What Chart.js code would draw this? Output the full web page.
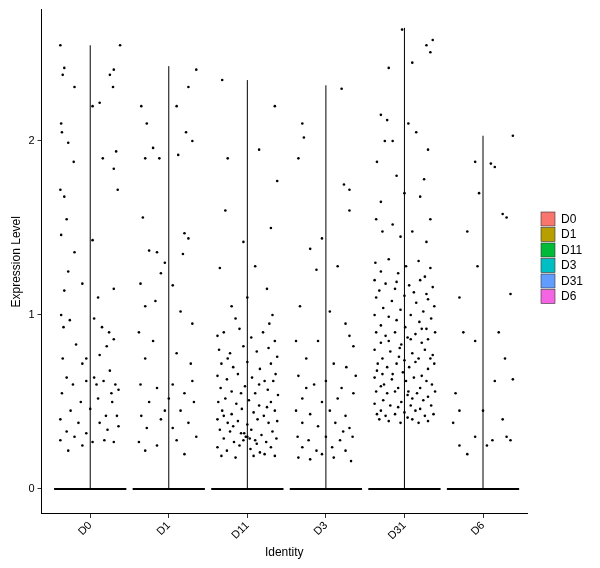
<!DOCTYPE html>
<html>
<head>
<script src="https://cdn.jsdelivr.net/npm/chart.js@4.4.0/dist/chart.umd.min.js"></script>
<style>body{margin:0;background:#fff}#wrap{width:600px;height:568px}</style>
</head>
<body>
<div id="wrap"><canvas id="c"></canvas></div>
<script>
const categories = ['D0', 'D1', 'D11', 'D3', 'D31', 'D6'];
const legendColors = ['#F8766D', '#B79F00', '#00BA38', '#00BFC4', '#619CFF', '#F564E3'];
const violinMax = [2.55, 2.43, 2.35, 2.32, 2.65, 2.03];
const yTicks = [0, 1, 2];

// non-zero cells: [jitter, expression]
const d0 = [[-.38,2.55],[-.33,2.42],[-.35,2.38],[-.2,2.31],[.3,2.41],[.38,2.55],[.25,2.38],[.29,2.31],[.12,2.22],[.03,2.2],[-.37,2.1],[-.36,2.05],[-.28,1.99],[-.21,1.88],[.16,1.9],[.33,1.94],[.3,1.84],[-.38,1.72],[-.33,1.68],[.35,1.72],[-.3,1.55],[-.37,1.46],[-.2,1.36],[.03,1.43],[-.28,1.25],[-.33,1.14],[-.1,1.18],[.1,1.1],[.3,1.15],[-.37,1.0],[-.34,.93],[-.26,.97],[.05,.98],[.15,.93],[.24,.9],[-.18,.83],[.3,.86],[.21,.82],[-.35,.75],[-.1,.72],[.12,.77],[.25,.68],[-.3,.64],[-.22,.6],[-.05,.62],[.05,.64],[.17,.62],[.32,.6],[.36,.57],[-.36,.55],[-.12,.5],[.1,.52],[.28,.5],[-.25,.45],[0,.46],[.2,.42],[-.38,.4],[-.15,.38],[.12,.38],[.34,.42],[-.3,.33],[-.05,.32],[.22,.34],[-.38,.28],[-.2,.3],[.03,.27],[.3,.27],[-.1,.25],[.18,.28],[-.28,.22],[.36,.36],[.08,.6],[-.05,.75],[.27,.55]];
const d1 = [[-.35,2.2],[.35,2.41],[.25,2.31],[.1,2.2],[-.28,2.1],[.22,2.05],[.3,2.0],[-.2,1.96],[-.3,1.9],[-.12,1.9],[.12,1.92],[-.33,1.56],[.2,1.47],[.25,1.44],[-.25,1.37],[-.15,1.36],[-.05,1.3],[.18,1.35],[-.36,1.18],[-.1,1.24],[.05,1.17],[-.3,1.05],[-.17,1.08],[.15,1.02],[-.38,.9],[-.2,.85],[.3,.95],[-.3,.75],[.1,.78],[.28,.72],[-.36,.6],[-.15,.58],[.05,.6],[.2,.55],[-.25,.5],[0,.52],[.32,.5],[-.35,.42],[-.1,.4],[.15,.45],[-.28,.35],[.05,.35],[.25,.38],[-.38,.27],[-.15,.25],[.1,.28],[.35,.3],[-.3,.22],[.2,.2],[-.05,.45],[.3,.62]];
const d11 = [[-.32,2.35],[-.25,1.9],[.35,2.2],[-.28,1.6],[.15,1.95],[.38,1.77],[.3,1.5],[-.05,1.42],[.1,1.28],[-.35,1.27],[.25,1.15],[0,1.1],[-.2,1.05],[.32,1.0],[-.38,.88],[-.3,.9],[-.1,.92],[.05,.87],[.2,.9],[.35,.85],[-.36,.8],[-.22,.78],[-.05,.82],[.12,.79],[.27,.81],[.38,.76],[-.33,.72],[-.18,.7],[0,.73],[.16,.69],[.3,.72],[-.38,.65],[-.26,.63],[-.12,.66],[.06,.64],[.22,.62],[.36,.66],[-.34,.58],[-.2,.56],[-.03,.59],[.1,.55],[.26,.57],[.39,.54],[-.37,.5],[-.28,.52],[-.14,.49],[.02,.51],[.15,.48],[.3,.5],[-.32,.45],[-.2,.43],[-.07,.46],[.08,.44],[.21,.42],[.35,.45],[-.38,.4],[-.25,.38],[-.12,.39],[0,.37],[.13,.4],[.27,.38],[.38,.39],[-.35,.34],[-.22,.33],[-.08,.32],[.05,.34],[.18,.31],[.32,.33],[-.3,.29],[-.17,.27],[-.02,.3],[.1,.28],[.24,.27],[.37,.29],[-.38,.24],[-.26,.22],[-.1,.25],[.04,.23],[.16,.21],[.3,.24],[-.33,.19],[-.15,.18],[.08,.19],[.22,.2],[.35,.19],[-.05,.28],[0,.3],[.03,.29],[-.04,.32],[.15,.6],[-.25,.75],[.28,.95],[-.15,.98],[-.3,.42],[.25,.47],[-.08,.55],[.33,.62],[-.18,.36],[.12,.26]];
const d3 = [[.2,2.3],[-.3,2.1],[-.28,2.02],[-.35,1.9],[.23,1.75],[.3,1.72],[.3,1.6],[-.05,1.44],[-.2,1.38],[-.12,1.26],[.15,1.28],[-.33,1.05],[.05,1.02],[.25,.95],[-.38,.85],[-.1,.85],[.3,.88],[.35,.82],[-.25,.75],[.1,.72],[.26,.7],[-.35,.65],[-.15,.6],[0,.62],[.2,.58],[-.3,.52],[-.05,.5],[.15,.52],[.35,.55],[-.38,.45],[-.2,.43],[.05,.45],[.25,.42],[-.3,.38],[-.1,.36],[.12,.38],[.3,.35],[-.36,.3],[-.22,.28],[0,.3],[.18,.28],[.34,.3],[-.3,.24],[-.12,.22],[.08,.24],[.25,.22],[-.35,.18],[-.2,.17],[.1,.18],[.32,.16],[-.05,.2],[.22,.33],[-.25,.58],[.38,.65]];
const d31 = [[-.03,2.64],[.28,2.55],[.33,2.51],[.36,2.58],[.1,2.45],[-.2,2.42],[-.3,2.15],[-.22,2.12],[-.25,2.0],[-.15,2.0],[.05,2.1],[.15,2.05],[.3,1.95],[-.35,1.88],[.25,1.78],[-.1,1.8],[-.3,1.65],[0,1.7],[.2,1.68],[-.36,1.55],[-.15,1.52],[.33,1.55],[-.28,1.48],[.1,1.48],[-.05,1.45],[.28,1.42],
[-.37,1.3],[-.2,1.32],[.02,1.28],[.18,1.31],[.33,1.27],[-.3,1.25],[-.08,1.24],[.26,1.22],
[-.38,1.2],[-.24,1.18],[-.1,1.19],[.06,1.17],[.2,1.2],[.36,1.16],[-.32,1.14],[.12,1.13],
[-.36,1.1],[-.16,1.08],[0,1.11],[.15,1.07],[.3,1.09],[-.27,1.04],[-.05,1.03],[.24,1.02],[.38,1.05],
[-.38,1.0],[-.2,.99],[-.1,.97],[.08,1.0],[.19,.96],[.34,.98],[-.3,.94],[.01,.93],[.28,.92],
[-.36,.9],[-.24,.88],[-.12,.9],[.04,.87],[.14,.89],[.3,.86],[.39,.9],[-.3,.84],[-.04,.83],[.22,.84],
[-.38,.8],[-.18,.79],[-.06,.81],[.1,.78],[.26,.8],[.36,.77],[-.28,.75],[0,.74],[.18,.75],
[-.34,.72],[-.22,.7],[-.1,.72],[.06,.7],[.14,.73],[.3,.69],[.38,.72],[-.28,.66],[-.02,.67],[.22,.65],
[-.38,.64],[-.16,.63],[.02,.62],[.12,.64],[.28,.62],[.35,.6],[-.3,.59],[-.08,.58],[.2,.58],
[-.36,.56],[-.22,.55],[-.12,.56],[.04,.54],[.16,.55],[.3,.53],[.39,.56],[-.27,.51],[-.04,.5],[.24,.51],
[-.38,.49],[-.18,.48],[-.08,.47],[.08,.48],[.2,.46],[.34,.48],[-.3,.45],[0,.44],[.14,.45],
[-.35,.43],[-.24,.42],[-.12,.43],[.04,.41],[.26,.42],[.37,.43],[-.2,.39],[.1,.4],[.3,.39],
[-.32,.4],[-.05,.38],[.18,.38],[-.15,.66],[.08,.86],[-.35,.68],[.33,.75],[-.12,1.15],[.05,.56],[-.26,.6],[.22,.92],[-.07,.76],[.1,.52],[-.2,.85],[.28,1.12]];
const d6 = [[-.1,1.88],[.1,1.87],[.15,1.85],[.38,2.03],[-.05,1.7],[.25,1.58],[.3,1.56],[-.2,1.48],[-.07,1.28],[-.3,1.1],[.35,1.12],[-.25,.9],[.2,.9],[-.1,.85],[.28,.75],[-.35,.55],[.15,.62],[.38,.63],[-.3,.45],[0,.45],[.25,.4],[-.38,.38],[-.1,.3],[.12,.28],[.3,.3],[-.3,.25],[.05,.25],[.35,.28],[-.2,.2]];
const groups = [d0, d1, d11, d3, d31, d6];

const datasets = [];
groups.forEach((g, i) => {
    datasets.push({type: 'line', data: [{x: i - 0.46, y: 0}, {x: i + 0.46, y: 0}],
        borderColor: '#000', borderWidth: 2, pointRadius: 0});
    datasets.push({type: 'line', data: [{x: i, y: 0}, {x: i, y: violinMax[i]}],
        borderColor: '#000', borderWidth: 1, pointRadius: 0});
    datasets.push({type: 'scatter', data: g.map(p => ({x: i + p[0], y: p[1]})),
        backgroundColor: '#000', borderWidth: 0, pointRadius: 1.3});
});

const legendPlugin = {
    id: 'ggLegend',
    afterDraw(chart) {
        const ctx = chart.ctx;
        ctx.save();
        ctx.font = '12px "Liberation Sans", Arial';
        ctx.textBaseline = 'middle';
        categories.forEach((c, i) => {
            const y = 212 + i * 15.5;
            ctx.fillStyle = legendColors[i];
            ctx.fillRect(541, y, 14, 14);
            ctx.strokeStyle = '#333';
            ctx.lineWidth = 0.6;
            ctx.strokeRect(541, y, 14, 14);
            ctx.fillStyle = '#000';
            ctx.fillText(c, 561, y + 7.5);
        });
        ctx.restore();
    }
};

new Chart(document.getElementById('c'), {
    type: 'scatter',
    data: {datasets: datasets},
    plugins: [legendPlugin],
    options: {
        animation: false,
        responsive: true,
        maintainAspectRatio: false,
        layout: {padding: {top: 0, right: 73, left: 7, bottom: 6}},
        plugins: {legend: {display: false}, tooltip: {enabled: false}},
        scales: {
            x: {
                type: 'linear', min: -0.62, max: 5.56,
                afterBuildTicks: s => { s.ticks = categories.map((c, i) => ({value: i})); },
                ticks: {color: '#000', maxRotation: 45, minRotation: 45, font: {size: 11}, padding: 1,
                    callback: v => categories[v]},
                grid: {drawOnChartArea: false, color: '#333', tickLength: 4},
                border: {color: '#000'},
                title: {display: true, text: 'Identity', color: '#000', font: {size: 12}, padding: 2}
            },
            y: {
                min: -0.144, max: 2.755,
                afterBuildTicks: s => { s.ticks = yTicks.map(v => ({value: v})); },
                ticks: {color: '#000', font: {size: 11}},
                grid: {drawOnChartArea: false, color: '#333', tickLength: 4},
                border: {color: '#000'},
                title: {display: true, text: 'Expression Level', color: '#000', font: {size: 12}, padding: 2}
            }
        }
    }
});
</script>
</body>
</html>
